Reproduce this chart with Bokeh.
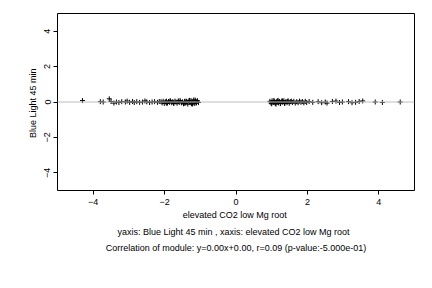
import math
from bokeh.plotting import figure
from bokeh.models import ColumnDataSource, Span, Title, FixedTicker
from bokeh.embed import file_html
from bokeh.resources import INLINE

x_vals = [
    -4.30, -3.80, -3.72, -3.55, -3.50, -3.42, -3.35, -3.28, -3.20, -3.10,
    -3.05, -2.98, -2.90, -2.85, -2.78, -2.70, -2.62, -2.55, -2.50, -2.42,
    -2.35, -2.28, -2.20, -2.15,
    -2.10, -2.07, -2.04, -2.01, -1.98, -1.95, -1.92, -1.89, -1.86, -1.83,
    -1.80, -1.77, -1.74, -1.71, -1.68, -1.65, -1.62, -1.59, -1.56, -1.53,
    -1.50, -1.47, -1.44, -1.41, -1.38, -1.35, -1.32, -1.29, -1.26, -1.23,
    -1.20, -1.17, -1.14, -1.11, -1.08, -1.05, -1.95, -1.85, -1.75, -1.60,
    -1.45, -1.40, -1.30, -1.25, -1.18, -1.12, -1.09, -1.22,
    0.95, 0.98, 1.01, 1.04, 1.07, 1.10, 1.13, 1.16, 1.19, 1.22,
    1.25, 1.28, 1.31, 1.34, 1.37, 1.40, 1.43, 1.46, 1.49, 1.52,
    1.55, 1.58, 1.62, 1.66, 1.70, 1.74, 1.78, 1.82, 1.86, 1.90,
    1.94, 1.98, 1.00, 1.06, 1.12, 1.18, 1.24, 1.30, 1.36, 1.45,
    2.05, 2.15, 2.30, 2.40, 2.50, 2.55, 2.70, 2.80, 2.90, 2.98,
    3.15, 3.25, 3.35, 3.45, 3.55, 3.90, 4.10, 4.60,
]
y_vals = [
    0.08, 0.02, 0.00, 0.18, 0.03, -0.06, 0.00, -0.03, 0.02, 0.00,
    0.05, -0.02, 0.03, -0.03, 0.02, -0.02, 0.00, 0.06, 0.01, -0.03,
    0.00, 0.02, -0.02, 0.03,
    0.02, -0.05, 0.04, -0.08, 0.01, 0.05, -0.06, 0.03, -0.02, 0.06,
    -0.04, 0.02, -0.09, 0.05, 0.00, -0.07, 0.04, -0.03, 0.07, -0.05,
    0.01, -0.10, 0.04, -0.06, 0.03, -0.12, 0.06, -0.02, 0.08, -0.07,
    0.05, -0.09, 0.10, -0.04, 0.07, -0.03, -0.07, 0.06, -0.05, 0.07,
    -0.08, 0.05, 0.09, -0.10, 0.12, -0.06, 0.04, -0.11,
    0.04, -0.06, 0.07, -0.03, 0.05, -0.08, 0.02, 0.06, -0.05, 0.03,
    -0.09, 0.05, -0.02, 0.07, -0.06, 0.03, -0.04, 0.06, -0.07, 0.02,
    0.05, -0.03, 0.04, -0.06, 0.02, -0.04, 0.05, -0.02, 0.03, -0.05,
    0.04, -0.03, -0.10, 0.08, -0.12, 0.09, -0.07, 0.06, -0.08, 0.04,
    0.03, -0.02, 0.02, -0.04, 0.00, -0.06, 0.03, 0.05, -0.03, 0.00,
    0.02, -0.04, -0.02, 0.03, 0.06, 0.00, -0.03, 0.00,
]
x_ticks = [-4, -2, 0, 2, 4]
y_ticks = [-4, -2, 0, 2, 4]
x_label = "elevated CO2 low  Mg root"
y_label = "Blue  Light 45 min"
line2 = "yaxis: Blue  Light 45 min , xaxis: elevated CO2 low  Mg root"
line3 = "Correlation of module: y=0.00x+0.00, r=0.09 (p-value:-5.000e-01)"

FONT = "Liberation Sans"

p = figure(frame_width=357, frame_height=177, x_range=(-5, 5), y_range=(-5, 5),
           output_backend="svg", toolbar_location=None,
           min_border_left=57, min_border_right=18, min_border_top=13,
           min_border_bottom=0)
p.background_fill_color = "white"
p.border_fill_color = "white"
p.outline_line_color = "black"
p.outline_line_width = 1
p.xgrid.visible = False
p.ygrid.visible = False

p.add_layout(Span(location=0, dimension="width", line_color="#bebebe", line_width=1))

src = ColumnDataSource(data=dict(x=x_vals, y=y_vals))
p.scatter("x", "y", source=src, marker="cross", size=5, line_color="black", line_width=1)

for ax in (p.xaxis[0], p.yaxis[0]):
    ax.axis_line_color = None
    ax.minor_tick_line_color = None
    ax.major_tick_out = 4
    ax.major_tick_in = 0
    ax.major_tick_line_color = "black"
    ax.major_label_text_font = FONT
    ax.major_label_text_font_size = "9px"
    ax.major_label_text_color = "black"
    ax.axis_label_text_font = FONT
    ax.axis_label_text_font_size = "9px"
    ax.axis_label_text_font_style = "normal"
    ax.axis_label_text_color = "black"

p.xaxis[0].ticker = FixedTicker(ticks=x_ticks)
p.yaxis[0].ticker = FixedTicker(ticks=y_ticks)
p.xaxis[0].axis_label = x_label
p.yaxis[0].axis_label = y_label
p.xaxis[0].major_label_standoff = 4
p.xaxis[0].axis_label_standoff = 2
p.yaxis[0].major_label_orientation = "vertical"
p.yaxis[0].major_label_standoff = 3
p.yaxis[0].axis_label_standoff = 4

for t in (line2, line3):
    p.add_layout(Title(text=t, align="center", text_font=FONT, text_font_size="9px",
                       text_font_style="normal", text_color="black",
                       offset=0, standoff=4), "below")

open("out.html", "w").write(file_html(p, INLINE))
